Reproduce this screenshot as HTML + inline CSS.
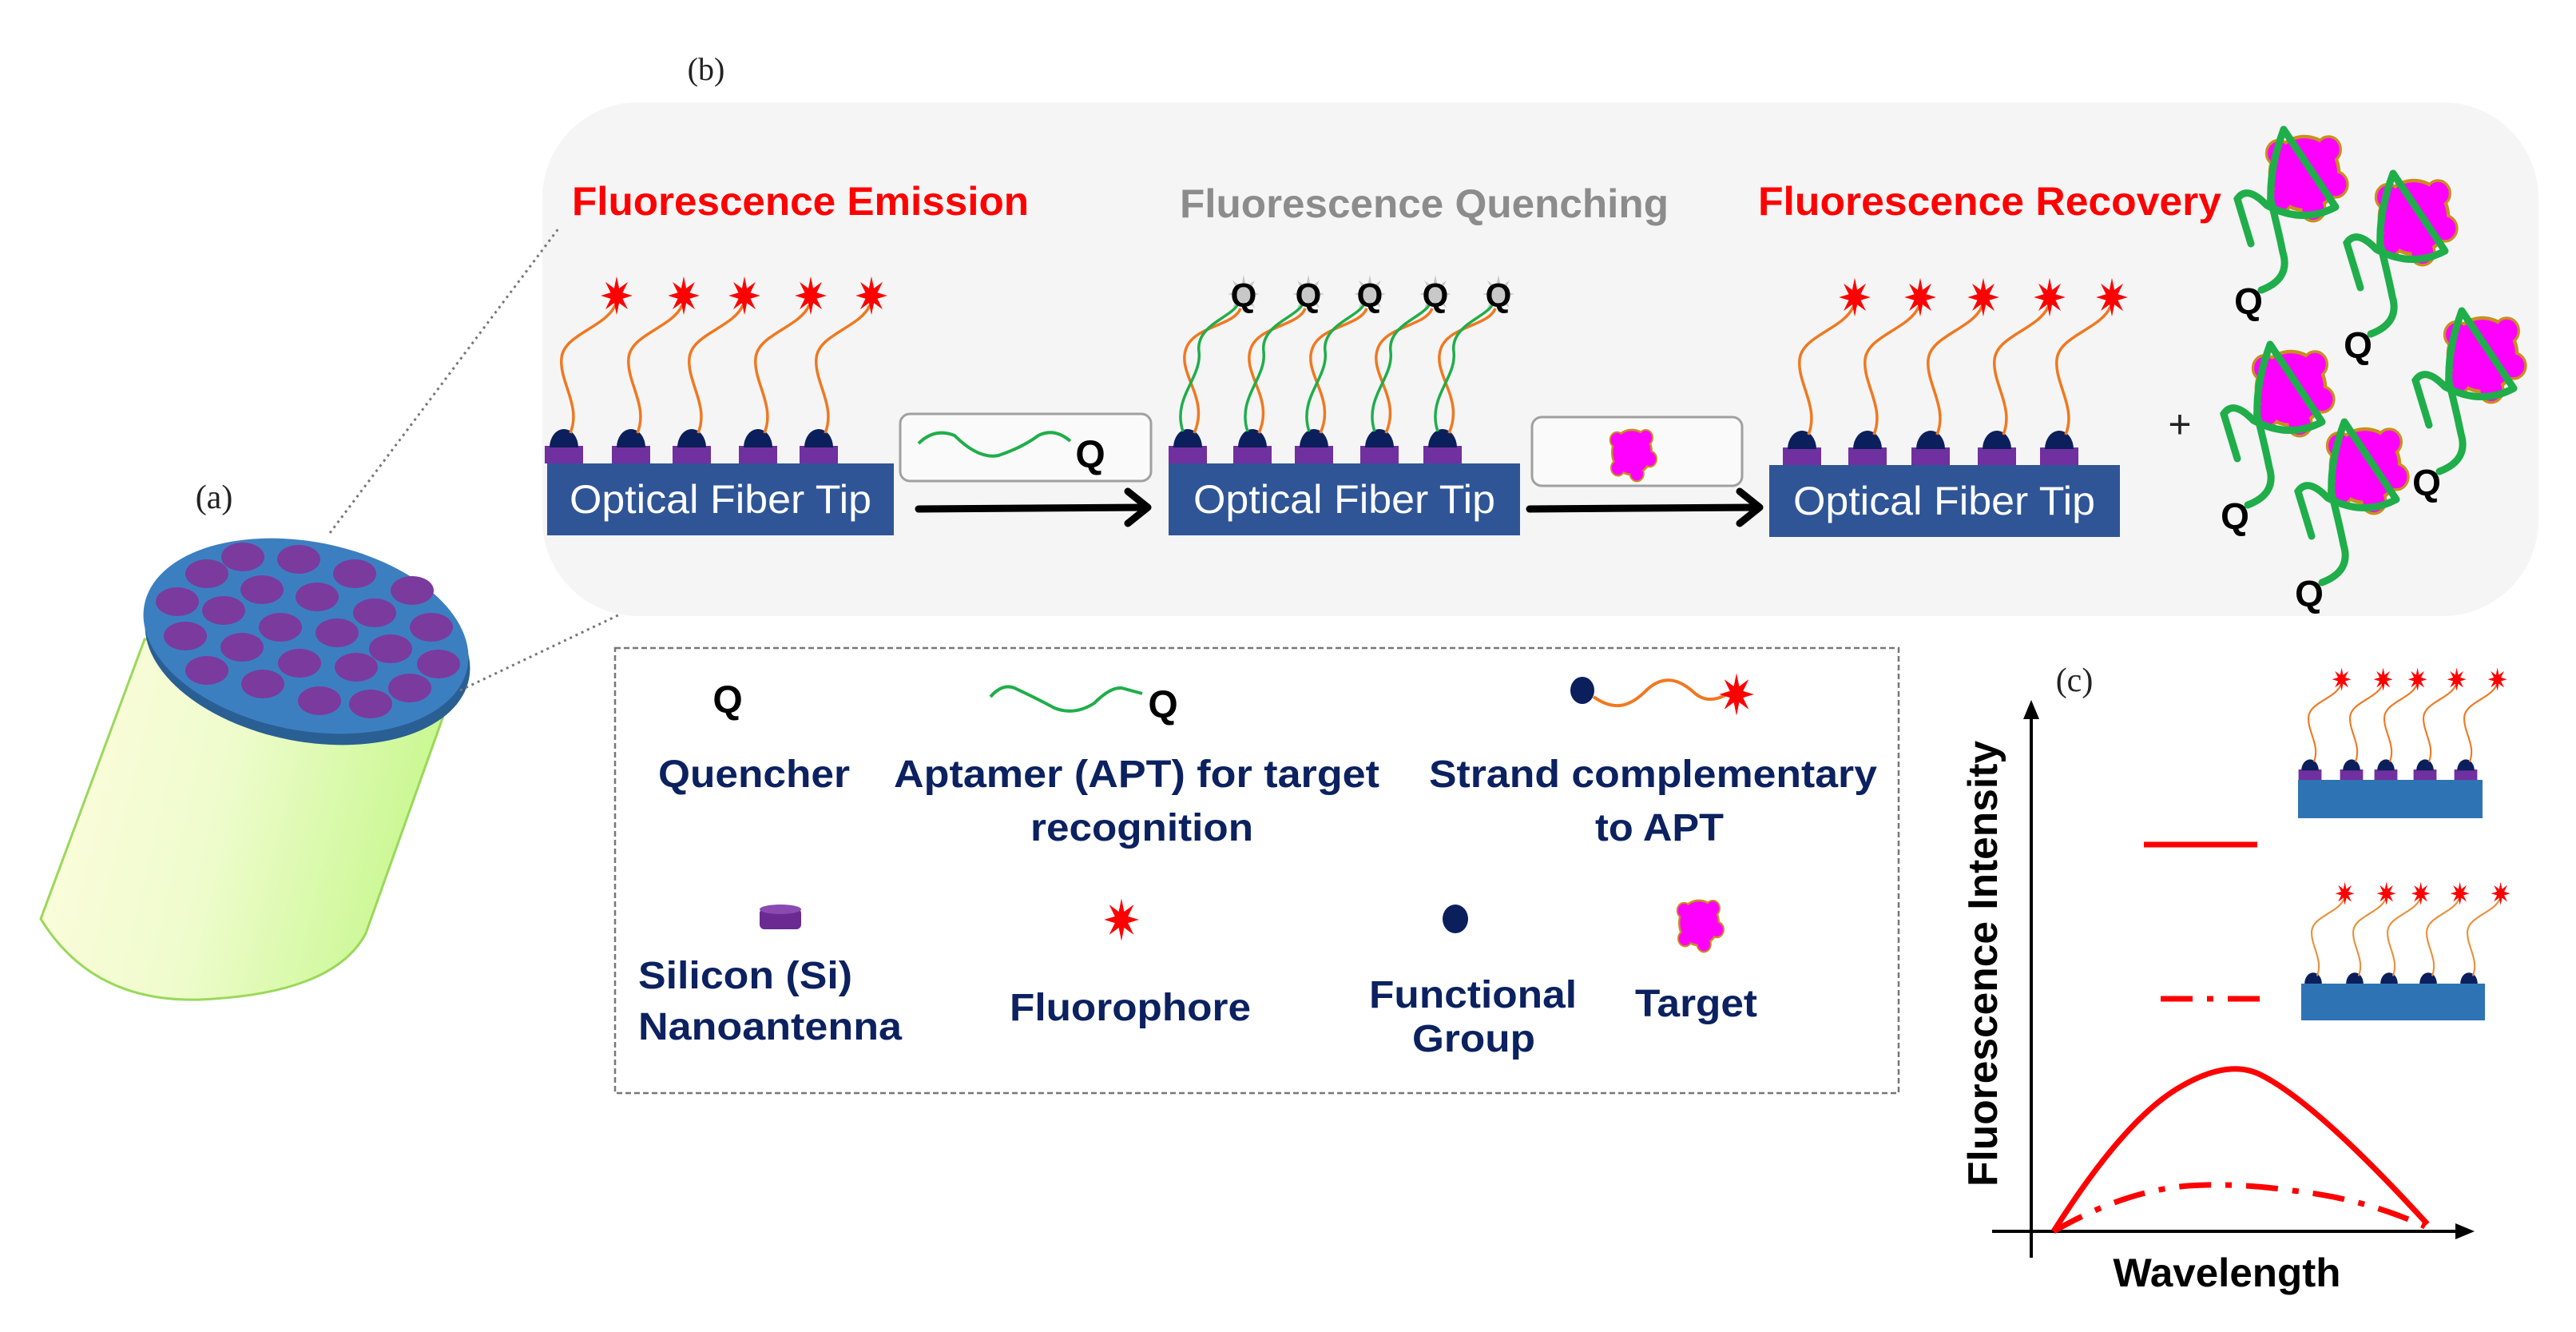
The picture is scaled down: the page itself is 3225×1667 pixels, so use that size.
<!DOCTYPE html>
<html><head><meta charset="utf-8"><style>
html,body{margin:0;padding:0;background:#fff;}
svg{display:block;}
text{font-family:"Liberation Sans",Arial,sans-serif;}
.serif{font-family:"Liberation Serif","Times New Roman",serif;}
.lg{font-weight:bold;font-size:48px;fill:#0b2160;}
</style></head><body>
<svg width="3225" height="1667" viewBox="0 0 3225 1667" xmlns="http://www.w3.org/2000/svg">
<defs>
  <polygon id="star" points="0,-22 3.44,-8.31 15.56,-15.56 8.31,-3.44 22,0 8.31,3.44 15.56,15.56 3.44,8.31 0,22 -3.44,8.31 -15.56,15.56 -8.31,3.44 -22,0 -8.31,-3.44 -15.56,-15.56 -3.44,-8.31" fill="#ff0000" transform="scale(0.9,1.1)"/>
  <g id="pd">
    <rect x="-24" y="0" width="48" height="22" fill="#7030a0"/>
    <path d="M-18,2 A18,23 0 0 1 18,2 Z" fill="#0b1f5c"/>
  </g>
  <g id="uE">
    <use href="#pd"/>
    <path d="M8,-16 C22,-50 -6,-80 -3,-110 C0,-140 52,-148 64,-176" fill="none" stroke="#f07820" stroke-width="3.5"/>
    <use href="#star" transform="translate(66,-188)"/>
  </g>
  <g id="uD">
    <path d="M-18,0 A18,23 0 0 1 18,0 Z" fill="#0b1f5c"/>
    <path d="M8,-16 C22,-50 -6,-80 -3,-110 C0,-140 52,-148 64,-176" fill="none" stroke="#e8903a" stroke-width="3.5"/>
    <use href="#star" transform="translate(66,-188)"/>
  </g>
  <g id="uQ">
    <use href="#pd"/>
    <path d="M8,-16 C28,-60 -14,-90 -2,-122 C8,-150 58,-150 66,-172" fill="none" stroke="#f07820" stroke-width="3.5"/>
    <path d="M-6,-18 C-20,-60 18,-85 14,-118 C10,-150 52,-160 62,-176" fill="none" stroke="#1fae4a" stroke-width="3.5"/>
    <g transform="translate(70,-190) scale(0.9,1.1)"><polygon points="0,-22 3.44,-8.31 15.56,-15.56 8.31,-3.44 22,0 8.31,3.44 15.56,15.56 3.44,8.31 0,22 -3.44,8.31 -15.56,15.56 -8.31,3.44 -22,0 -8.31,-3.44 -15.56,-15.56 -3.44,-8.31" fill="#c8c8c8"/></g>
    <text x="70" y="-174" font-size="42" font-weight="bold" text-anchor="middle" fill="#000">Q</text>
  </g>
  <g id="blob">
    <circle cx="0" cy="0" r="40" fill="#ff00ff" stroke="#c8901c" stroke-width="4"/>
    <circle cx="-30" cy="-22" r="14" fill="#ff00ff" stroke="#c8901c" stroke-width="3"/>
    <circle cx="28" cy="-26" r="14" fill="#ff00ff" stroke="#c8901c" stroke-width="3"/>
    <circle cx="36" cy="12" r="14" fill="#ff00ff" stroke="#c8901c" stroke-width="3"/>
    <circle cx="10" cy="38" r="14" fill="#ff00ff" stroke="#c8901c" stroke-width="3"/>
    <circle cx="-28" cy="28" r="14" fill="#ff00ff" stroke="#c8901c" stroke-width="3"/>
    <circle cx="0" cy="0" r="38" fill="#ff00ff"/>
  </g>
  <g id="cx">
    <use href="#blob" transform="translate(2,-4) scale(1.08,1.15)"/>
    <path d="M-24,-59 L41,38 Q0,60 -45,36" fill="none" stroke="#1fae4a" stroke-width="9" stroke-linejoin="round"/>
    <path d="M-24,-59 Q-42,-10 -40,30 Q-30,70 -25,95 Q-15,128 -52,142" fill="none" stroke="#1fae4a" stroke-width="9" stroke-linecap="round"/>
    <path d="M-65,84 L-82,28 Q-70,10 -45,36" fill="none" stroke="#1fae4a" stroke-width="9" stroke-linecap="round"/>
    <text x="-68" y="172" font-size="46" font-weight="bold" text-anchor="middle" fill="#000">Q</text>
  </g>
  <linearGradient id="cyl" x1="0" y1="0" x2="1" y2="0.2">
    <stop offset="0" stop-color="#fffde0"/>
    <stop offset="0.5" stop-color="#eefccc"/>
    <stop offset="1" stop-color="#c6f78c"/>
  </linearGradient>
</defs>

<!-- (a) cylinder -->
<text class="serif" x="268" y="636" font-size="42" text-anchor="middle" fill="#222">(a)</text>
<path d="M181,800 L51,1150 Q120,1262 268,1250 Q420,1240 458,1168 L584,815 Z" fill="url(#cyl)" stroke="#9ad85a" stroke-width="3"/>
<ellipse cx="385" cy="810" rx="206" ry="118" transform="rotate(11 385 810)" fill="#2a5f94"/>
<ellipse cx="383" cy="796" rx="206" ry="118" transform="rotate(11 383 796)" fill="#3c7fc1"/>
<g fill="#7b3a9e">
<ellipse cx="304" cy="697" rx="27" ry="18"/><ellipse cx="374" cy="700" rx="27" ry="18"/>
<ellipse cx="444" cy="718" rx="27" ry="18"/><ellipse cx="259" cy="718" rx="27" ry="18"/>
<ellipse cx="516" cy="739" rx="27" ry="18"/><ellipse cx="328" cy="738" rx="27" ry="18"/>
<ellipse cx="397" cy="747" rx="27" ry="18"/><ellipse cx="222" cy="753" rx="27" ry="18"/>
<ellipse cx="280" cy="764" rx="27" ry="18"/><ellipse cx="469" cy="767" rx="27" ry="18"/>
<ellipse cx="351" cy="785" rx="27" ry="18"/><ellipse cx="422" cy="792" rx="27" ry="18"/>
<ellipse cx="540" cy="785" rx="27" ry="18"/><ellipse cx="232" cy="796" rx="27" ry="18"/>
<ellipse cx="303" cy="810" rx="27" ry="18"/><ellipse cx="489" cy="812" rx="27" ry="18"/>
<ellipse cx="375" cy="830" rx="27" ry="18"/><ellipse cx="446" cy="835" rx="27" ry="18"/>
<ellipse cx="549" cy="831" rx="27" ry="18"/><ellipse cx="259" cy="839" rx="27" ry="18"/>
<ellipse cx="329" cy="856" rx="27" ry="18"/><ellipse cx="513" cy="861" rx="27" ry="18"/>
<ellipse cx="400" cy="877" rx="27" ry="18"/><ellipse cx="464" cy="881" rx="27" ry="18"/>
</g>

<!-- panel b -->
<rect x="679" y="128" width="2499" height="643" rx="120" fill="#f5f5f5"/>
<line x1="413" y1="667" x2="700" y2="285" stroke="#777" stroke-width="3" stroke-dasharray="3,5"/>
<line x1="576" y1="864" x2="778" y2="768" stroke="#777" stroke-width="3" stroke-dasharray="3,5"/>
<text class="serif" x="884" y="100" font-size="40" text-anchor="middle" fill="#222">(b)</text>

<text x="716" y="269" font-size="50" font-weight="bold" fill="#ff0000" textLength="572" lengthAdjust="spacingAndGlyphs">Fluorescence Emission</text>
<text x="1477" y="272" font-size="50" font-weight="bold" fill="#8c8c8c" textLength="612" lengthAdjust="spacingAndGlyphs">Fluorescence Quenching</text>
<text x="2201" y="269" font-size="50" font-weight="bold" fill="#ff0000" textLength="580" lengthAdjust="spacingAndGlyphs">Fluorescence Recovery</text>

<!-- tips -->
<rect x="685" y="580" width="434" height="90" fill="#2f5597"/>
<rect x="1463" y="580" width="440" height="90" fill="#2f5597"/>
<rect x="2215" y="582" width="439" height="90" fill="#2f5597"/>
<text x="902" y="642" font-size="50" fill="#fff" text-anchor="middle" textLength="378" lengthAdjust="spacingAndGlyphs">Optical Fiber Tip</text>
<text x="1683" y="642" font-size="50" fill="#fff" text-anchor="middle" textLength="378" lengthAdjust="spacingAndGlyphs">Optical Fiber Tip</text>
<text x="2434" y="644" font-size="50" fill="#fff" text-anchor="middle" textLength="378" lengthAdjust="spacingAndGlyphs">Optical Fiber Tip</text>

<use href="#uE" x="706" y="558"/><use href="#uE" x="790" y="558"/><use href="#uE" x="866" y="558"/><use href="#uE" x="949" y="558"/><use href="#uE" x="1025" y="558"/>
<use href="#uQ" x="1487" y="558"/><use href="#uQ" x="1568" y="558"/><use href="#uQ" x="1645" y="558"/><use href="#uQ" x="1727" y="558"/><use href="#uQ" x="1806" y="558"/>
<use href="#uE" x="2256" y="560"/><use href="#uE" x="2338" y="560"/><use href="#uE" x="2417" y="560"/><use href="#uE" x="2500" y="560"/><use href="#uE" x="2578" y="560"/>

<!-- boxes & arrows -->
<rect x="1127" y="518" width="314" height="84" rx="12" fill="#fafafa" stroke="#a0a0a0" stroke-width="3"/>
<path d="M1150,555 Q1170,535 1195,545 Q1225,575 1250,570 Q1280,560 1300,545 Q1320,535 1340,552" fill="none" stroke="#1fae4a" stroke-width="4"/>
<text x="1365" y="585" font-size="48" font-weight="bold" text-anchor="middle" fill="#000">Q</text>
<rect x="1918" y="522" width="263" height="86" rx="12" fill="#fafafa" stroke="#a0a0a0" stroke-width="3"/>
<use href="#blob" transform="translate(2043,566) scale(0.62,0.7)"/>
<g stroke="#000" stroke-width="9" fill="none" stroke-linecap="round" stroke-linejoin="round">
<line x1="1150" y1="637" x2="1432" y2="635"/><polyline points="1412,615 1437,635 1412,655"/>
<line x1="1915" y1="637" x2="2198" y2="635"/><polyline points="2178,615 2203,635 2178,655"/>
</g>

<text x="2729" y="548" font-size="50" text-anchor="middle" fill="#222">+</text>
<use href="#cx" x="2883" y="221"/>
<use href="#cx" x="3020" y="276"/>
<use href="#cx" x="3106" y="448"/>
<use href="#cx" x="2866" y="490"/>
<use href="#cx" x="2959" y="587"/>

<!-- legend -->
<rect x="770" y="811" width="1607" height="557" fill="#fff" stroke="#777" stroke-width="2.5" stroke-dasharray="7,4"/>
<text x="911" y="892" font-size="48" font-weight="bold" text-anchor="middle" fill="#000">Q</text>
<path d="M1240,872 Q1255,855 1270,861 Q1300,875 1320,886 Q1345,896 1370,880 Q1390,860 1404,861 L1430,868" fill="none" stroke="#1fae4a" stroke-width="4"/>
<text x="1456" y="898" font-size="48" font-weight="bold" text-anchor="middle" fill="#000">Q</text>
<ellipse cx="1981" cy="864" rx="15" ry="17" fill="#0b1f5c"/>
<path d="M1995,872 C2020,890 2040,885 2060,865 C2080,845 2100,848 2120,866 C2135,880 2150,875 2160,870" fill="none" stroke="#f07820" stroke-width="4"/>
<use href="#star" transform="translate(2174,869) scale(1.1)"/>
<text class="lg" x="824" y="985" textLength="240" lengthAdjust="spacingAndGlyphs">Quencher</text>
<text class="lg" x="1119" y="985" textLength="608" lengthAdjust="spacingAndGlyphs">Aptamer (APT) for target</text>
<text class="lg" x="1290" y="1052" textLength="279" lengthAdjust="spacingAndGlyphs">recognition</text>
<text class="lg" x="1789" y="985" textLength="561" lengthAdjust="spacingAndGlyphs">Strand complementary</text>
<text class="lg" x="1997" y="1052" textLength="161" lengthAdjust="spacingAndGlyphs">to APT</text>

<rect x="951" y="1137" width="52" height="26" rx="6" fill="#6a2a92"/>
<ellipse cx="977" cy="1138" rx="26" ry="6" fill="#8a4ab2"/>
<use href="#star" transform="translate(1404,1151) scale(1.1)"/>
<ellipse cx="1822" cy="1150" rx="16" ry="18" fill="#0b1f5c"/>
<use href="#blob" transform="translate(2127,1155) scale(0.62,0.7)"/>
<text class="lg" x="799" y="1237" textLength="268" lengthAdjust="spacingAndGlyphs">Silicon (Si)</text>
<text class="lg" x="799" y="1301" textLength="330" lengthAdjust="spacingAndGlyphs">Nanoantenna</text>
<text class="lg" x="1264" y="1277" textLength="302" lengthAdjust="spacingAndGlyphs">Fluorophore</text>
<text class="lg" x="1714" y="1261" textLength="260" lengthAdjust="spacingAndGlyphs">Functional</text>
<text class="lg" x="1768" y="1316" textLength="154" lengthAdjust="spacingAndGlyphs">Group</text>
<text class="lg" x="2047" y="1272" textLength="153" lengthAdjust="spacingAndGlyphs">Target</text>

<!-- panel c -->
<text class="serif" x="2597" y="865" font-size="42" text-anchor="middle" fill="#222">(c)</text>
<g stroke="#000" stroke-width="4" fill="none">
<line x1="2543" y1="885" x2="2543" y2="1574"/>
<line x1="2494" y1="1541" x2="3088" y2="1541"/>
</g>
<polygon points="2543,876 2533,900 2553,900" fill="#000"/>
<polygon points="3098,1541 3074,1531 3074,1551" fill="#000"/>
<text transform="translate(2500,1206) rotate(-90)" font-size="52" font-weight="bold" text-anchor="middle" fill="#000" textLength="558" lengthAdjust="spacingAndGlyphs">Fluorescence Intensity</text>
<text x="2788" y="1610" font-size="50" font-weight="bold" text-anchor="middle" fill="#000" textLength="285" lengthAdjust="spacingAndGlyphs">Wavelength</text>
<path d="M2571,1541 Q2660,1400 2730,1360 Q2790,1325 2830,1345 Q2900,1380 3039,1532" fill="none" stroke="#ff0000" stroke-width="7"/>
<path d="M2571,1541 Q2660,1490 2740,1484 Q2800,1480 2870,1490 Q2960,1500 3036,1535" fill="none" stroke="#ff0000" stroke-width="7" stroke-dasharray="40,18,8,18"/>
<line x1="2684" y1="1057" x2="2826" y2="1057" stroke="#ff0000" stroke-width="7"/>
<line x1="2705" y1="1250" x2="2838" y2="1250" stroke="#ff0000" stroke-width="7" stroke-dasharray="40,18,8,18"/>
<rect x="2877" y="976" width="231" height="48" fill="#2e74b5"/>
<g transform="translate(2892,963) scale(0.6)"><use href="#uE"/></g>
<g transform="translate(2944,963) scale(0.6)"><use href="#uE"/></g>
<g transform="translate(2987,963) scale(0.6)"><use href="#uE"/></g>
<g transform="translate(3036,963) scale(0.6)"><use href="#uE"/></g>
<g transform="translate(3087,963) scale(0.6)"><use href="#uE"/></g>
<rect x="2881" y="1231" width="230" height="46" fill="#2e74b5"/>
<g transform="translate(2896,1231) scale(0.6)"><use href="#uD"/></g>
<g transform="translate(2948,1231) scale(0.6)"><use href="#uD"/></g>
<g transform="translate(2991,1231) scale(0.6)"><use href="#uD"/></g>
<g transform="translate(3040,1231) scale(0.6)"><use href="#uD"/></g>
<g transform="translate(3091,1231) scale(0.6)"><use href="#uD"/></g>
</svg>
</body></html>
